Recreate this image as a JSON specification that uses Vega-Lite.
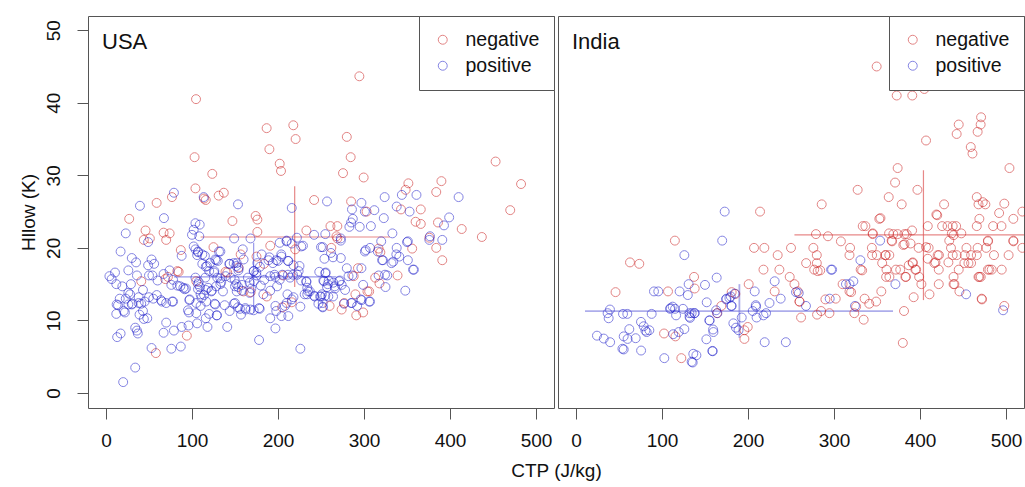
{
  "$schema": "https://vega.github.io/schema/vega-lite/v6.json",
  "background": "white",
  "padding": {"left": 18, "top": 15, "right": 0, "bottom": 0},
  "bounds": "flush",
  "spacing": 4,
  "config": {
    "font": "Liberation Sans",
    "view": {"stroke": "#555", "strokeWidth": 1},
    "axis": {"domain": false, "grid": false, "tickSize": 11, "tickColor": "#555", "labelFontSize": 19, "titleFontSize": 19, "labelColor": "#111", "titleColor": "#111", "titleFontWeight": "normal", "labelFlush": false, "labelOverlap": false},
    "legend": {"orient": "top-right", "offset": 0, "strokeColor": "#555", "fillColor": "white", "padding": 14, "labelFontSize": 19.5, "labelOffset": 13, "symbolSize": 80, "symbolStrokeWidth": 1, "rowPadding": 5, "labelColor": "#111", "cornerRadius": 0},
    "title": {"fontSize": 22, "fontWeight": "normal", "color": "#111", "anchor": "start", "frame": "group"}
  },
  "datasets": {
    "usa": [
      {"ctp":294.6,"hllow":43.65,"group":"negative"},{"ctp":104.7,"hllow":40.5,"group":"negative"},{"ctp":186.8,"hllow":36.5,"group":"negative"},{"ctp":217.8,"hllow":36.9,"group":"negative"},{"ctp":220.5,"hllow":35.0,"group":"negative"},{"ctp":190,"hllow":33.6,"group":"negative"},{"ctp":280,"hllow":35.3,"group":"negative"},{"ctp":284.5,"hllow":32.5,"group":"negative"},{"ctp":103,"hllow":32.5,"group":"negative"},{"ctp":202,"hllow":31.6,"group":"negative"},{"ctp":203.5,"hllow":30.6,"group":"negative"},{"ctp":123.6,"hllow":30.2,"group":"negative"},{"ctp":275.6,"hllow":30.3,"group":"negative"},{"ctp":299.6,"hllow":29.7,"group":"negative"},{"ctp":453,"hllow":31.9,"group":"negative"},{"ctp":482.6,"hllow":28.8,"group":"negative"},{"ctp":104,"hllow":28.2,"group":"negative"},{"ctp":351.6,"hllow":28.9,"group":"negative"},{"ctp":390,"hllow":29.2,"group":"negative"},{"ctp":384,"hllow":27.7,"group":"negative"},{"ctp":348.4,"hllow":28.0,"group":"negative"},{"ctp":470,"hllow":25.2,"group":"negative"},{"ctp":114,"hllow":26.8,"group":"negative"},{"ctp":116,"hllow":26.6,"group":"negative"},{"ctp":131,"hllow":27.2,"group":"negative"},{"ctp":137,"hllow":27.6,"group":"negative"},{"ctp":76.7,"hllow":27.0,"group":"negative"},{"ctp":58.9,"hllow":26.2,"group":"negative"},{"ctp":242,"hllow":26.6,"group":"negative"},{"ctp":285,"hllow":26.4,"group":"negative"},{"ctp":303,"hllow":25.0,"group":"negative"},{"ctp":343,"hllow":25.3,"group":"negative"},{"ctp":366,"hllow":25.3,"group":"negative"},{"ctp":27,"hllow":24.0,"group":"negative"},{"ctp":147,"hllow":23.7,"group":"negative"},{"ctp":174,"hllow":24.4,"group":"negative"},{"ctp":176,"hllow":23.9,"group":"negative"},{"ctp":360,"hllow":23.6,"group":"negative"},{"ctp":366,"hllow":23.3,"group":"negative"},{"ctp":386,"hllow":23.5,"group":"negative"},{"ctp":413.6,"hllow":22.6,"group":"negative"},{"ctp":261,"hllow":23.0,"group":"negative"},{"ctp":269,"hllow":23.0,"group":"negative"},{"ctp":46,"hllow":22.4,"group":"negative"},{"ctp":44,"hllow":21.1,"group":"negative"},{"ctp":51,"hllow":21.3,"group":"negative"},{"ctp":67,"hllow":22.1,"group":"negative"},{"ctp":74,"hllow":22.0,"group":"negative"},{"ctp":70,"hllow":21.1,"group":"negative"},{"ctp":176,"hllow":22.2,"group":"negative"},{"ctp":233,"hllow":22.4,"group":"negative"},{"ctp":268,"hllow":21.6,"group":"negative"},{"ctp":269,"hllow":21.3,"group":"negative"},{"ctp":376,"hllow":21.4,"group":"negative"},{"ctp":437,"hllow":21.5,"group":"negative"},{"ctp":125,"hllow":20.1,"group":"negative"},{"ctp":87,"hllow":19.7,"group":"negative"},{"ctp":191,"hllow":20.3,"group":"negative"},{"ctp":220,"hllow":19.8,"group":"negative"},{"ctp":262,"hllow":20.0,"group":"negative"},{"ctp":317,"hllow":19.9,"group":"negative"},{"ctp":319,"hllow":19.4,"group":"negative"},{"ctp":356,"hllow":19.9,"group":"negative"},{"ctp":384,"hllow":20.0,"group":"negative"},{"ctp":391,"hllow":18.3,"group":"negative"},{"ctp":175,"hllow":18.8,"group":"negative"},{"ctp":83,"hllow":16.8,"group":"negative"},{"ctp":84.5,"hllow":16.7,"group":"negative"},{"ctp":139,"hllow":16.7,"group":"negative"},{"ctp":141,"hllow":16.6,"group":"negative"},{"ctp":154,"hllow":17.3,"group":"negative"},{"ctp":293,"hllow":17.2,"group":"negative"},{"ctp":288,"hllow":16.1,"group":"negative"},{"ctp":69,"hllow":15.7,"group":"negative"},{"ctp":41,"hllow":15.4,"group":"negative"},{"ctp":105,"hllow":15.4,"group":"negative"},{"ctp":206,"hllow":16.2,"group":"negative"},{"ctp":313,"hllow":15.9,"group":"negative"},{"ctp":318,"hllow":15.1,"group":"negative"},{"ctp":339,"hllow":16.2,"group":"negative"},{"ctp":160,"hllow":14.0,"group":"negative"},{"ctp":187,"hllow":13.3,"group":"negative"},{"ctp":290,"hllow":13.6,"group":"negative"},{"ctp":304,"hllow":14.0,"group":"negative"},{"ctp":216,"hllow":12.5,"group":"negative"},{"ctp":205,"hllow":11.8,"group":"negative"},{"ctp":260,"hllow":12.0,"group":"negative"},{"ctp":274,"hllow":11.5,"group":"negative"},{"ctp":277,"hllow":12.4,"group":"negative"},{"ctp":291,"hllow":10.7,"group":"negative"},{"ctp":299,"hllow":11.1,"group":"negative"},{"ctp":94,"hllow":7.9,"group":"negative"},{"ctp":58,"hllow":5.5,"group":"negative"},{"ctp":183.7,"hllow":17.8,"group":"negative"},{"ctp":168.2,"hllow":13.9,"group":"negative"},{"ctp":156.6,"hllow":19.1,"group":"negative"},{"ctp":72,"hllow":16.0,"group":"negative"},{"ctp":306,"hllow":14.0,"group":"negative"},
      {"ctp":79,"hllow":27.6,"group":"positive"},{"ctp":39.5,"hllow":25.8,"group":"positive"},{"ctp":67.4,"hllow":24.1,"group":"positive"},{"ctp":23,"hllow":22.0,"group":"positive"},{"ctp":49,"hllow":20.8,"group":"positive"},{"ctp":17,"hllow":19.5,"group":"positive"},{"ctp":30,"hllow":18.6,"group":"positive"},{"ctp":53,"hllow":18.4,"group":"positive"},{"ctp":35,"hllow":18.0,"group":"positive"},{"ctp":49,"hllow":17.6,"group":"positive"},{"ctp":56,"hllow":17.8,"group":"positive"},{"ctp":4,"hllow":16.1,"group":"positive"},{"ctp":10.5,"hllow":16.6,"group":"positive"},{"ctp":6.6,"hllow":15.7,"group":"positive"},{"ctp":26,"hllow":16.9,"group":"positive"},{"ctp":36,"hllow":16.2,"group":"positive"},{"ctp":50,"hllow":16.2,"group":"positive"},{"ctp":54,"hllow":16.2,"group":"positive"},{"ctp":74,"hllow":16.9,"group":"positive"},{"ctp":12,"hllow":15.0,"group":"positive"},{"ctp":19,"hllow":14.7,"group":"positive"},{"ctp":29,"hllow":15.0,"group":"positive"},{"ctp":43,"hllow":14.2,"group":"positive"},{"ctp":60,"hllow":15.5,"group":"positive"},{"ctp":67,"hllow":16.4,"group":"positive"},{"ctp":88,"hllow":18.9,"group":"positive"},{"ctp":100,"hllow":21.8,"group":"positive"},{"ctp":104,"hllow":23.4,"group":"positive"},{"ctp":109,"hllow":23.2,"group":"positive"},{"ctp":102,"hllow":22.5,"group":"positive"},{"ctp":108.5,"hllow":21.6,"group":"positive"},{"ctp":113.6,"hllow":27.0,"group":"positive"},{"ctp":153.5,"hllow":26.0,"group":"positive"},{"ctp":149,"hllow":21.3,"group":"positive"},{"ctp":168,"hllow":21.3,"group":"positive"},{"ctp":216,"hllow":25.5,"group":"positive"},{"ctp":222,"hllow":21.4,"group":"positive"},{"ctp":257,"hllow":26.4,"group":"positive"},{"ctp":286,"hllow":25.3,"group":"positive"},{"ctp":297,"hllow":26.2,"group":"positive"},{"ctp":301,"hllow":25.0,"group":"positive"},{"ctp":312,"hllow":25.2,"group":"positive"},{"ctp":324,"hllow":27.0,"group":"positive"},{"ctp":344,"hllow":27.3,"group":"positive"},{"ctp":361,"hllow":27.3,"group":"positive"},{"ctp":410,"hllow":27.0,"group":"positive"},{"ctp":338,"hllow":25.7,"group":"positive"},{"ctp":353,"hllow":25.0,"group":"positive"},{"ctp":285,"hllow":23.5,"group":"positive"},{"ctp":287,"hllow":24.0,"group":"positive"},{"ctp":295,"hllow":22.9,"group":"positive"},{"ctp":308,"hllow":23.0,"group":"positive"},{"ctp":283,"hllow":22.9,"group":"positive"},{"ctp":323,"hllow":24.1,"group":"positive"},{"ctp":399,"hllow":24.2,"group":"positive"},{"ctp":393,"hllow":23.1,"group":"positive"},{"ctp":333,"hllow":22.0,"group":"positive"},{"ctp":376,"hllow":21.1,"group":"positive"},{"ctp":391,"hllow":21.1,"group":"positive"},{"ctp":351,"hllow":20.9,"group":"positive"},{"ctp":320,"hllow":20.9,"group":"positive"},{"ctp":255,"hllow":21.9,"group":"positive"},{"ctp":273,"hllow":21.3,"group":"positive"},{"ctp":242,"hllow":21.8,"group":"positive"},{"ctp":202,"hllow":20.7,"group":"positive"},{"ctp":210,"hllow":21.0,"group":"positive"},{"ctp":229,"hllow":20.3,"group":"positive"},{"ctp":250,"hllow":20.1,"group":"positive"},{"ctp":302,"hllow":19.7,"group":"positive"},{"ctp":307,"hllow":20.0,"group":"positive"},{"ctp":338,"hllow":20.0,"group":"positive"},{"ctp":341,"hllow":18.8,"group":"positive"},{"ctp":351,"hllow":18.3,"group":"positive"},{"ctp":322,"hllow":18.3,"group":"positive"},{"ctp":332,"hllow":17.9,"group":"positive"},{"ctp":334,"hllow":18.1,"group":"positive"},{"ctp":358,"hllow":17.0,"group":"positive"},{"ctp":348,"hllow":14.1,"group":"positive"},{"ctp":325,"hllow":14.6,"group":"positive"},{"ctp":307,"hllow":12.6,"group":"positive"},{"ctp":296,"hllow":12.9,"group":"positive"},{"ctp":286,"hllow":12.4,"group":"positive"},{"ctp":297,"hllow":17.2,"group":"positive"},{"ctp":280,"hllow":17.2,"group":"positive"},{"ctp":282,"hllow":16.1,"group":"positive"},{"ctp":264,"hllow":18.7,"group":"positive"},{"ctp":254,"hllow":18.5,"group":"positive"},{"ctp":273,"hllow":18.6,"group":"positive"},{"ctp":248,"hllow":16.7,"group":"positive"},{"ctp":255,"hllow":16.5,"group":"positive"},{"ctp":259,"hllow":15.5,"group":"positive"},{"ctp":266,"hllow":14.7,"group":"positive"},{"ctp":271,"hllow":15.4,"group":"positive"},{"ctp":278,"hllow":14.2,"group":"positive"},{"ctp":255,"hllow":13.4,"group":"positive"},{"ctp":251,"hllow":13.6,"group":"positive"},{"ctp":242,"hllow":13.4,"group":"positive"},{"ctp":234,"hllow":13.6,"group":"positive"},{"ctp":235,"hllow":14.0,"group":"positive"},{"ctp":233,"hllow":15.3,"group":"positive"},{"ctp":227,"hllow":15.5,"group":"positive"},{"ctp":224,"hllow":16.8,"group":"positive"},{"ctp":225,"hllow":17.5,"group":"positive"},{"ctp":214,"hllow":15.9,"group":"positive"},{"ctp":212,"hllow":18.2,"group":"positive"},{"ctp":204,"hllow":18.8,"group":"positive"},{"ctp":198,"hllow":18.3,"group":"positive"},{"ctp":189,"hllow":18.3,"group":"positive"},{"ctp":181,"hllow":19.1,"group":"positive"},{"ctp":176,"hllow":17.9,"group":"positive"},{"ctp":172,"hllow":16.8,"group":"positive"},{"ctp":175,"hllow":16.2,"group":"positive"},{"ctp":184,"hllow":15.6,"group":"positive"},{"ctp":191,"hllow":16.1,"group":"positive"},{"ctp":197,"hllow":16.0,"group":"positive"},{"ctp":202,"hllow":15.6,"group":"positive"},{"ctp":199,"hllow":14.7,"group":"positive"},{"ctp":191,"hllow":14.1,"group":"positive"},{"ctp":180,"hllow":14.8,"group":"positive"},{"ctp":169,"hllow":14.4,"group":"positive"},{"ctp":167,"hllow":13.8,"group":"positive"},{"ctp":158,"hllow":14.9,"group":"positive"},{"ctp":152,"hllow":14.0,"group":"positive"},{"ctp":150,"hllow":14.7,"group":"positive"},{"ctp":145,"hllow":15.9,"group":"positive"},{"ctp":139,"hllow":16.1,"group":"positive"},{"ctp":133,"hllow":15.8,"group":"positive"},{"ctp":126,"hllow":16.8,"group":"positive"},{"ctp":127,"hllow":18.4,"group":"positive"},{"ctp":130,"hllow":18.2,"group":"positive"},{"ctp":133,"hllow":19.5,"group":"positive"},{"ctp":144,"hllow":17.8,"group":"positive"},{"ctp":152,"hllow":17.9,"group":"positive"},{"ctp":159,"hllow":19.8,"group":"positive"},{"ctp":160,"hllow":18.4,"group":"positive"},{"ctp":154,"hllow":16.9,"group":"positive"},{"ctp":112,"hllow":19.1,"group":"positive"},{"ctp":107,"hllow":19.5,"group":"positive"},{"ctp":116,"hllow":17.4,"group":"positive"},{"ctp":121,"hllow":17.9,"group":"positive"},{"ctp":120,"hllow":16.8,"group":"positive"},{"ctp":104,"hllow":15.9,"group":"positive"},{"ctp":107,"hllow":15.0,"group":"positive"},{"ctp":107,"hllow":14.3,"group":"positive"},{"ctp":110,"hllow":13.6,"group":"positive"},{"ctp":116,"hllow":14.2,"group":"positive"},{"ctp":123,"hllow":14.1,"group":"positive"},{"ctp":128,"hllow":14.7,"group":"positive"},{"ctp":133,"hllow":15.0,"group":"positive"},{"ctp":136,"hllow":14.0,"group":"positive"},{"ctp":105,"hllow":12.4,"group":"positive"},{"ctp":111,"hllow":13.1,"group":"positive"},{"ctp":97,"hllow":12.8,"group":"positive"},{"ctp":90,"hllow":14.5,"group":"positive"},{"ctp":93,"hllow":14.4,"group":"positive"},{"ctp":83,"hllow":14.8,"group":"positive"},{"ctp":76,"hllow":14.9,"group":"positive"},{"ctp":78,"hllow":15.6,"group":"positive"},{"ctp":64,"hllow":12.8,"group":"positive"},{"ctp":70,"hllow":12.4,"group":"positive"},{"ctp":77,"hllow":12.6,"group":"positive"},{"ctp":59,"hllow":13.5,"group":"positive"},{"ctp":55,"hllow":13.0,"group":"positive"},{"ctp":50,"hllow":13.2,"group":"positive"},{"ctp":45,"hllow":12.6,"group":"positive"},{"ctp":38,"hllow":13.2,"group":"positive"},{"ctp":38,"hllow":12.4,"group":"positive"},{"ctp":30,"hllow":12.2,"group":"positive"},{"ctp":26,"hllow":12.2,"group":"positive"},{"ctp":28,"hllow":13.6,"group":"positive"},{"ctp":26,"hllow":13.8,"group":"positive"},{"ctp":23,"hllow":13.0,"group":"positive"},{"ctp":16,"hllow":13.0,"group":"positive"},{"ctp":14,"hllow":12.1,"group":"positive"},{"ctp":12,"hllow":10.9,"group":"positive"},{"ctp":22,"hllow":11.1,"group":"positive"},{"ctp":39,"hllow":10.8,"group":"positive"},{"ctp":43,"hllow":11.3,"group":"positive"},{"ctp":44,"hllow":10.2,"group":"positive"},{"ctp":48,"hllow":10.3,"group":"positive"},{"ctp":34,"hllow":9.0,"group":"positive"},{"ctp":36,"hllow":8.6,"group":"positive"},{"ctp":37,"hllow":8.2,"group":"positive"},{"ctp":17,"hllow":8.2,"group":"positive"},{"ctp":13,"hllow":7.7,"group":"positive"},{"ctp":70,"hllow":9.7,"group":"positive"},{"ctp":67,"hllow":8.3,"group":"positive"},{"ctp":79,"hllow":8.6,"group":"positive"},{"ctp":88,"hllow":9.1,"group":"positive"},{"ctp":96,"hllow":9.3,"group":"positive"},{"ctp":106,"hllow":9.6,"group":"positive"},{"ctp":118,"hllow":9.1,"group":"positive"},{"ctp":116,"hllow":10.3,"group":"positive"},{"ctp":120,"hllow":10.9,"group":"positive"},{"ctp":127,"hllow":12.2,"group":"positive"},{"ctp":129,"hllow":10.7,"group":"positive"},{"ctp":141,"hllow":9.1,"group":"positive"},{"ctp":150,"hllow":12.4,"group":"positive"},{"ctp":157,"hllow":10.8,"group":"positive"},{"ctp":162,"hllow":11.7,"group":"positive"},{"ctp":168,"hllow":11.5,"group":"positive"},{"ctp":178,"hllow":11.7,"group":"positive"},{"ctp":191,"hllow":10.3,"group":"positive"},{"ctp":197,"hllow":8.9,"group":"positive"},{"ctp":197,"hllow":12.0,"group":"positive"},{"ctp":204,"hllow":10.6,"group":"positive"},{"ctp":212,"hllow":10.6,"group":"positive"},{"ctp":210,"hllow":12.4,"group":"positive"},{"ctp":226,"hllow":11.9,"group":"positive"},{"ctp":178,"hllow":7.3,"group":"positive"},{"ctp":226,"hllow":6.1,"group":"positive"},{"ctp":53,"hllow":6.2,"group":"positive"},{"ctp":76,"hllow":6.1,"group":"positive"},{"ctp":87,"hllow":6.4,"group":"positive"},{"ctp":34,"hllow":3.5,"group":"positive"},{"ctp":20,"hllow":1.5,"group":"positive"},{"ctp":183,"hllow":13.6,"group":"positive"},{"ctp":211,"hllow":13.6,"group":"positive"},{"ctp":218,"hllow":13.2,"group":"positive"},{"ctp":167,"hllow":15.2,"group":"positive"},{"ctp":179,"hllow":17.4,"group":"positive"},{"ctp":234,"hllow":14.5,"group":"positive"},{"ctp":247,"hllow":12.3,"group":"positive"},{"ctp":252,"hllow":11.9,"group":"positive"},{"ctp":264,"hllow":13.3,"group":"positive"},{"ctp":299,"hllow":14.9,"group":"positive"},{"ctp":317,"hllow":16.2,"group":"positive"},{"ctp":327,"hllow":16.2,"group":"positive"},
      {"ctp":12.4,"hllow":12.2,"group":"positive"},{"ctp":20.6,"hllow":11.3,"group":"positive"},{"ctp":30.6,"hllow":12.3,"group":"positive"},{"ctp":41,"hllow":12.3,"group":"positive"},{"ctp":65,"hllow":12.6,"group":"positive"},{"ctp":78,"hllow":12.6,"group":"positive"},{"ctp":96.5,"hllow":11.1,"group":"positive"},{"ctp":95.3,"hllow":11.4,"group":"positive"},{"ctp":105,"hllow":11.0,"group":"positive"},{"ctp":86.4,"hllow":14.7,"group":"positive"},{"ctp":91.5,"hllow":14.3,"group":"positive"},{"ctp":97.3,"hllow":12.9,"group":"positive"},{"ctp":102,"hllow":20.2,"group":"positive"},{"ctp":104,"hllow":19.8,"group":"positive"},{"ctp":107,"hllow":19.4,"group":"positive"},{"ctp":106,"hllow":19.0,"group":"positive"},{"ctp":115,"hllow":18.9,"group":"positive"},{"ctp":112,"hllow":17.8,"group":"positive"},{"ctp":117.4,"hllow":17.5,"group":"positive"},{"ctp":131.4,"hllow":19.5,"group":"positive"},{"ctp":128.3,"hllow":18.3,"group":"positive"},{"ctp":125.6,"hllow":16.6,"group":"positive"},{"ctp":129.4,"hllow":15.9,"group":"positive"},{"ctp":134,"hllow":15.3,"group":"positive"},{"ctp":115.5,"hllow":15.9,"group":"positive"},{"ctp":107.8,"hllow":15.3,"group":"positive"},{"ctp":109.3,"hllow":14.6,"group":"positive"},{"ctp":118.6,"hllow":14.5,"group":"positive"},{"ctp":122.5,"hllow":14.0,"group":"positive"},{"ctp":114,"hllow":13.5,"group":"positive"},{"ctp":116.6,"hllow":12.6,"group":"positive"},{"ctp":110,"hllow":12.0,"group":"positive"},{"ctp":126.4,"hllow":12.3,"group":"positive"},{"ctp":138,"hllow":12.1,"group":"positive"},{"ctp":143.8,"hllow":11.3,"group":"positive"},{"ctp":148.8,"hllow":12.3,"group":"positive"},{"ctp":153.5,"hllow":11.8,"group":"positive"},{"ctp":128.7,"hllow":10.7,"group":"positive"},{"ctp":149.6,"hllow":15.6,"group":"positive"},{"ctp":151.6,"hllow":15.0,"group":"positive"},{"ctp":153.8,"hllow":14.6,"group":"positive"},{"ctp":158,"hllow":14.1,"group":"positive"},{"ctp":151.5,"hllow":17.5,"group":"positive"},{"ctp":154.3,"hllow":17.2,"group":"positive"},{"ctp":143.4,"hllow":17.8,"group":"positive"},{"ctp":148.5,"hllow":17.9,"group":"positive"},{"ctp":165,"hllow":15.9,"group":"positive"},{"ctp":172,"hllow":15.4,"group":"positive"},{"ctp":171.7,"hllow":16.8,"group":"positive"},{"ctp":174.8,"hllow":16.6,"group":"positive"},{"ctp":227,"hllow":20.2,"group":"positive"},{"ctp":210,"hllow":20.9,"group":"positive"},{"ctp":216,"hllow":20.6,"group":"positive"},{"ctp":203.8,"hllow":19.1,"group":"positive"},{"ctp":200,"hllow":18.2,"group":"positive"},{"ctp":211.6,"hllow":18.2,"group":"positive"},{"ctp":218,"hllow":17.6,"group":"positive"},{"ctp":190,"hllow":18.7,"group":"positive"},{"ctp":194,"hllow":17.9,"group":"positive"},{"ctp":196,"hllow":16.3,"group":"positive"},{"ctp":205,"hllow":16.3,"group":"positive"},{"ctp":211.6,"hllow":16.3,"group":"positive"},{"ctp":217.4,"hllow":16.3,"group":"positive"},{"ctp":222.4,"hllow":16.3,"group":"positive"},{"ctp":233,"hllow":15.4,"group":"positive"},{"ctp":237,"hllow":14.0,"group":"positive"},{"ctp":231,"hllow":13.6,"group":"positive"},{"ctp":242.6,"hllow":13.3,"group":"positive"},{"ctp":250,"hllow":13.3,"group":"positive"},{"ctp":257,"hllow":14.6,"group":"positive"},{"ctp":253.5,"hllow":15.4,"group":"positive"},{"ctp":198,"hllow":11.3,"group":"positive"},{"ctp":208,"hllow":12.0,"group":"positive"},{"ctp":216,"hllow":12.9,"group":"positive"},{"ctp":178.7,"hllow":11.6,"group":"positive"},{"ctp":171.7,"hllow":11.4,"group":"positive"},{"ctp":162.4,"hllow":11.5,"group":"positive"},{"ctp":155.8,"hllow":11.6,"group":"positive"},{"ctp":273,"hllow":21.0,"group":"positive"},{"ctp":376.7,"hllow":21.6,"group":"positive"},{"ctp":261.6,"hllow":19.3,"group":"positive"},{"ctp":301,"hllow":19.5,"group":"positive"},{"ctp":316,"hllow":19.5,"group":"positive"},{"ctp":252,"hllow":20.1,"group":"positive"},{"ctp":255.5,"hllow":16.6,"group":"positive"},{"ctp":252.7,"hllow":15.5,"group":"positive"},{"ctp":257.8,"hllow":15.0,"group":"positive"},{"ctp":264.3,"hllow":15.2,"group":"positive"},{"ctp":272,"hllow":15.5,"group":"positive"},{"ctp":266.3,"hllow":14.4,"group":"positive"},{"ctp":274,"hllow":14.9,"group":"positive"},{"ctp":249,"hllow":13.3,"group":"positive"},{"ctp":258.5,"hllow":13.3,"group":"positive"},{"ctp":252,"hllow":12.4,"group":"positive"},{"ctp":252,"hllow":11.8,"group":"positive"},{"ctp":276.7,"hllow":12.3,"group":"positive"},{"ctp":285,"hllow":12.4,"group":"positive"},{"ctp":292,"hllow":12.0,"group":"positive"},{"ctp":297.3,"hllow":12.8,"group":"positive"},{"ctp":306,"hllow":12.6,"group":"positive"},{"ctp":321,"hllow":18.3,"group":"positive"},{"ctp":324.4,"hllow":16.3,"group":"positive"},{"ctp":337.6,"hllow":19.1,"group":"positive"},{"ctp":350,"hllow":20.8,"group":"positive"},{"ctp":357,"hllow":17.0,"group":"positive"},{"ctp":286.4,"hllow":16.2,"group":"positive"}
    ],
    "usa_bars": [
      {"group":"negative","xm":219.4,"xlo":110,"xhi":330,"ym":21.5,"ylo":14.6,"yhi":28.5},
      {"group":"positive","xm":171.7,"xlo":79,"xhi":268,"ym":16.0,"ylo":11.0,"yhi":20.7}
    ],
    "india": [
      {"ctp":349.6,"hllow":45.0,"group":"negative"},{"ctp":372.9,"hllow":41.0,"group":"negative"},{"ctp":391,"hllow":41.0,"group":"negative"},{"ctp":405,"hllow":41.9,"group":"negative"},{"ctp":471,"hllow":38.0,"group":"negative"},{"ctp":470.5,"hllow":37.0,"group":"negative"},{"ctp":445,"hllow":37.0,"group":"negative"},{"ctp":442.6,"hllow":35.7,"group":"negative"},{"ctp":467,"hllow":36.0,"group":"negative"},{"ctp":407,"hllow":34.8,"group":"negative"},{"ctp":459,"hllow":33.9,"group":"negative"},{"ctp":461,"hllow":33.0,"group":"negative"},{"ctp":504,"hllow":31.0,"group":"negative"},{"ctp":374,"hllow":31.0,"group":"negative"},{"ctp":371,"hllow":29.0,"group":"negative"},{"ctp":327.5,"hllow":28.0,"group":"negative"},{"ctp":397,"hllow":28.0,"group":"negative"},{"ctp":363.6,"hllow":27.0,"group":"negative"},{"ctp":378.7,"hllow":26.0,"group":"negative"},{"ctp":285.7,"hllow":26.0,"group":"negative"},{"ctp":428,"hllow":26.0,"group":"negative"},{"ctp":466,"hllow":27.0,"group":"negative"},{"ctp":468,"hllow":26.0,"group":"negative"},{"ctp":473,"hllow":26.3,"group":"negative"},{"ctp":476,"hllow":26.0,"group":"negative"},{"ctp":498,"hllow":26.1,"group":"negative"},{"ctp":419,"hllow":24.6,"group":"negative"},{"ctp":469,"hllow":24.0,"group":"negative"},{"ctp":492,"hllow":24.8,"group":"negative"},{"ctp":508.5,"hllow":24.0,"group":"negative"},{"ctp":519,"hllow":25.0,"group":"negative"},{"ctp":352.7,"hllow":24.0,"group":"negative"},{"ctp":354,"hllow":24.1,"group":"negative"},{"ctp":214,"hllow":25.0,"group":"negative"},{"ctp":420,"hllow":24.5,"group":"negative"},{"ctp":333.4,"hllow":23.0,"group":"negative"},{"ctp":336.5,"hllow":23.0,"group":"negative"},{"ctp":345,"hllow":22.0,"group":"negative"},{"ctp":364,"hllow":22.0,"group":"negative"},{"ctp":369,"hllow":21.9,"group":"negative"},{"ctp":374,"hllow":21.9,"group":"negative"},{"ctp":381.9,"hllow":21.9,"group":"negative"},{"ctp":384.5,"hllow":21.9,"group":"negative"},{"ctp":390.8,"hllow":22.4,"group":"negative"},{"ctp":367,"hllow":21.0,"group":"negative"},{"ctp":380.6,"hllow":20.4,"group":"negative"},{"ctp":409,"hllow":23.0,"group":"negative"},{"ctp":425.7,"hllow":23.0,"group":"negative"},{"ctp":432,"hllow":23.0,"group":"negative"},{"ctp":438,"hllow":23.0,"group":"negative"},{"ctp":442,"hllow":23.0,"group":"negative"},{"ctp":466,"hllow":23.0,"group":"negative"},{"ctp":485,"hllow":23.0,"group":"negative"},{"ctp":494.7,"hllow":23.0,"group":"negative"},{"ctp":437,"hllow":22.0,"group":"negative"},{"ctp":448,"hllow":22.0,"group":"negative"},{"ctp":439,"hllow":21.75,"group":"negative"},{"ctp":434,"hllow":21.0,"group":"negative"},{"ctp":479,"hllow":21.0,"group":"negative"},{"ctp":508.5,"hllow":21.0,"group":"negative"},{"ctp":519,"hllow":20.0,"group":"negative"},{"ctp":398.4,"hllow":20.0,"group":"negative"},{"ctp":407,"hllow":20.1,"group":"negative"},{"ctp":410,"hllow":20.0,"group":"negative"},{"ctp":436,"hllow":20.0,"group":"negative"},{"ctp":454,"hllow":20.0,"group":"negative"},{"ctp":467,"hllow":20.0,"group":"negative"},{"ctp":477,"hllow":20.0,"group":"negative"},{"ctp":479,"hllow":20.9,"group":"negative"},{"ctp":508.6,"hllow":20.9,"group":"negative"},{"ctp":279,"hllow":21.9,"group":"negative"},{"ctp":293,"hllow":21.6,"group":"negative"},{"ctp":308,"hllow":20.9,"group":"negative"},{"ctp":318.7,"hllow":20.0,"group":"negative"},{"ctp":318,"hllow":19.0,"group":"negative"},{"ctp":344,"hllow":20.0,"group":"negative"},{"ctp":345,"hllow":21.9,"group":"negative"},{"ctp":360,"hllow":19.0,"group":"negative"},{"ctp":364.3,"hllow":19.0,"group":"negative"},{"ctp":367.5,"hllow":20.9,"group":"negative"},{"ctp":382,"hllow":20.5,"group":"negative"},{"ctp":389,"hllow":20.6,"group":"negative"},{"ctp":391.5,"hllow":18.0,"group":"negative"},{"ctp":409,"hllow":18.5,"group":"negative"},{"ctp":420.5,"hllow":19.0,"group":"negative"},{"ctp":422,"hllow":19.0,"group":"negative"},{"ctp":438,"hllow":19.0,"group":"negative"},{"ctp":442.7,"hllow":19.0,"group":"negative"},{"ctp":452,"hllow":19.0,"group":"negative"},{"ctp":459.4,"hllow":19.0,"group":"negative"},{"ctp":466,"hllow":19.0,"group":"negative"},{"ctp":486,"hllow":19.0,"group":"negative"},{"ctp":503,"hllow":19.0,"group":"negative"},{"ctp":418,"hllow":18.0,"group":"negative"},{"ctp":433,"hllow":18.0,"group":"negative"},{"ctp":451.6,"hllow":17.9,"group":"negative"},{"ctp":456.3,"hllow":17.9,"group":"negative"},{"ctp":459.4,"hllow":17.9,"group":"negative"},{"ctp":445,"hllow":17.0,"group":"negative"},{"ctp":479,"hllow":17.0,"group":"negative"},{"ctp":480.7,"hllow":17.0,"group":"negative"},{"ctp":483.4,"hllow":17.0,"group":"negative"},{"ctp":495,"hllow":17.0,"group":"negative"},{"ctp":469,"hllow":16.0,"group":"negative"},{"ctp":468,"hllow":16.0,"group":"negative"},{"ctp":470.6,"hllow":16.0,"group":"negative"},{"ctp":439,"hllow":16.0,"group":"negative"},{"ctp":421.8,"hllow":17.0,"group":"negative"},{"ctp":416.7,"hllow":17.9,"group":"negative"},{"ctp":394.6,"hllow":17.0,"group":"negative"},{"ctp":383.7,"hllow":16.0,"group":"negative"},{"ctp":372,"hllow":17.0,"group":"negative"},{"ctp":377,"hllow":17.0,"group":"negative"},{"ctp":386.9,"hllow":17.6,"group":"negative"},{"ctp":391.5,"hllow":17.9,"group":"negative"},{"ctp":395.5,"hllow":17.0,"group":"negative"},{"ctp":399,"hllow":16.0,"group":"negative"},{"ctp":401.6,"hllow":15.0,"group":"negative"},{"ctp":361,"hllow":17.0,"group":"negative"},{"ctp":360.6,"hllow":16.0,"group":"negative"},{"ctp":364.4,"hllow":16.0,"group":"negative"},{"ctp":383,"hllow":16.0,"group":"negative"},{"ctp":344.3,"hllow":19.0,"group":"negative"},{"ctp":349.7,"hllow":19.0,"group":"negative"},{"ctp":356,"hllow":17.9,"group":"negative"},{"ctp":359.8,"hllow":19.0,"group":"negative"},{"ctp":421.8,"hllow":15.0,"group":"negative"},{"ctp":439,"hllow":15.0,"group":"negative"},{"ctp":440,"hllow":15.0,"group":"negative"},{"ctp":445.8,"hllow":14.0,"group":"negative"},{"ctp":471.7,"hllow":13.0,"group":"negative"},{"ctp":411,"hllow":13.6,"group":"negative"},{"ctp":392.6,"hllow":13.2,"group":"negative"},{"ctp":498,"hllow":12.0,"group":"negative"},{"ctp":472,"hllow":12.9,"group":"negative"},{"ctp":381.4,"hllow":11.3,"group":"negative"},{"ctp":380,"hllow":6.9,"group":"negative"},{"ctp":331,"hllow":17.0,"group":"negative"},{"ctp":332.7,"hllow":16.9,"group":"negative"},{"ctp":318,"hllow":14.0,"group":"negative"},{"ctp":310,"hllow":15.0,"group":"negative"},{"ctp":319.9,"hllow":13.9,"group":"negative"},{"ctp":355,"hllow":14.0,"group":"negative"},{"ctp":335.6,"hllow":13.0,"group":"negative"},{"ctp":341,"hllow":12.3,"group":"negative"},{"ctp":349,"hllow":12.6,"group":"negative"},{"ctp":334.5,"hllow":10.1,"group":"negative"},{"ctp":323.6,"hllow":11.0,"group":"negative"},{"ctp":325.7,"hllow":11.9,"group":"negative"},{"ctp":302,"hllow":13.0,"group":"negative"},{"ctp":290,"hllow":12.9,"group":"negative"},{"ctp":285,"hllow":11.3,"group":"negative"},{"ctp":280.3,"hllow":10.8,"group":"negative"},{"ctp":294.7,"hllow":11.0,"group":"negative"},{"ctp":261.7,"hllow":10.4,"group":"negative"},{"ctp":259.8,"hllow":12.6,"group":"negative"},{"ctp":276,"hllow":20.0,"group":"negative"},{"ctp":280,"hllow":19.0,"group":"negative"},{"ctp":280,"hllow":17.9,"group":"negative"},{"ctp":277,"hllow":17.0,"group":"negative"},{"ctp":281,"hllow":16.8,"group":"negative"},{"ctp":284,"hllow":16.9,"group":"negative"},{"ctp":267.6,"hllow":17.9,"group":"negative"},{"ctp":250,"hllow":20.0,"group":"negative"},{"ctp":234.5,"hllow":19.0,"group":"negative"},{"ctp":219,"hllow":20.0,"group":"negative"},{"ctp":207,"hllow":20.0,"group":"negative"},{"ctp":218,"hllow":17.0,"group":"negative"},{"ctp":236.5,"hllow":17.0,"group":"negative"},{"ctp":248.5,"hllow":16.0,"group":"negative"},{"ctp":254,"hllow":15.0,"group":"negative"},{"ctp":257.8,"hllow":14.0,"group":"negative"},{"ctp":260,"hllow":12.6,"group":"negative"},{"ctp":231,"hllow":14.0,"group":"negative"},{"ctp":200.8,"hllow":15.0,"group":"negative"},{"ctp":181,"hllow":13.9,"group":"negative"},{"ctp":185.3,"hllow":13.65,"group":"negative"},{"ctp":169,"hllow":12.0,"group":"negative"},{"ctp":164,"hllow":11.0,"group":"negative"},{"ctp":195.8,"hllow":8.65,"group":"negative"},{"ctp":199.7,"hllow":9.1,"group":"negative"},{"ctp":195.8,"hllow":7.45,"group":"negative"},{"ctp":138,"hllow":14.4,"group":"negative"},{"ctp":137.3,"hllow":16.0,"group":"negative"},{"ctp":107,"hllow":14.0,"group":"negative"},{"ctp":115,"hllow":21.0,"group":"negative"},{"ctp":62.8,"hllow":18.0,"group":"negative"},{"ctp":73.6,"hllow":17.8,"group":"negative"},{"ctp":46,"hllow":13.9,"group":"negative"},{"ctp":102.4,"hllow":8.2,"group":"negative"},{"ctp":115.6,"hllow":7.8,"group":"negative"},{"ctp":122.5,"hllow":4.8,"group":"negative"},
      {"ctp":172.9,"hllow":25.0,"group":"positive"},{"ctp":170,"hllow":21.0,"group":"positive"},{"ctp":126,"hllow":19.0,"group":"positive"},{"ctp":163.6,"hllow":15.9,"group":"positive"},{"ctp":150,"hllow":14.9,"group":"positive"},{"ctp":131,"hllow":15.0,"group":"positive"},{"ctp":130,"hllow":13.5,"group":"positive"},{"ctp":120.5,"hllow":14.0,"group":"positive"},{"ctp":90.7,"hllow":14.0,"group":"positive"},{"ctp":95.7,"hllow":14.0,"group":"positive"},{"ctp":152,"hllow":12.5,"group":"positive"},{"ctp":175,"hllow":13.0,"group":"positive"},{"ctp":180,"hllow":13.3,"group":"positive"},{"ctp":184.5,"hllow":13.7,"group":"positive"},{"ctp":180.6,"hllow":12.0,"group":"positive"},{"ctp":110,"hllow":11.7,"group":"positive"},{"ctp":112.4,"hllow":11.9,"group":"positive"},{"ctp":115.2,"hllow":11.6,"group":"positive"},{"ctp":124.4,"hllow":11.6,"group":"positive"},{"ctp":134.5,"hllow":11.0,"group":"positive"},{"ctp":138,"hllow":11.0,"group":"positive"},{"ctp":132,"hllow":10.5,"group":"positive"},{"ctp":116.4,"hllow":10.7,"group":"positive"},{"ctp":88,"hllow":10.9,"group":"positive"},{"ctp":39.5,"hllow":11.5,"group":"positive"},{"ctp":36.8,"hllow":11.0,"group":"positive"},{"ctp":38,"hllow":10.3,"group":"positive"},{"ctp":54.7,"hllow":10.9,"group":"positive"},{"ctp":59.7,"hllow":10.9,"group":"positive"},{"ctp":163,"hllow":11.4,"group":"positive"},{"ctp":155,"hllow":10.0,"group":"positive"},{"ctp":159.4,"hllow":8.75,"group":"positive"},{"ctp":159.8,"hllow":8.4,"group":"positive"},{"ctp":151.6,"hllow":7.4,"group":"positive"},{"ctp":158.5,"hllow":5.8,"group":"positive"},{"ctp":126,"hllow":8.8,"group":"positive"},{"ctp":119.4,"hllow":8.4,"group":"positive"},{"ctp":113,"hllow":8.1,"group":"positive"},{"ctp":136.4,"hllow":5.4,"group":"positive"},{"ctp":134.5,"hllow":4.3,"group":"positive"},{"ctp":140,"hllow":5.2,"group":"positive"},{"ctp":102.7,"hllow":4.8,"group":"positive"},{"ctp":75.6,"hllow":9.8,"group":"positive"},{"ctp":78.7,"hllow":9.2,"group":"positive"},{"ctp":80.7,"hllow":8.6,"group":"positive"},{"ctp":82.2,"hllow":8.4,"group":"positive"},{"ctp":85.3,"hllow":8.65,"group":"positive"},{"ctp":62,"hllow":8.8,"group":"positive"},{"ctp":55.5,"hllow":7.8,"group":"positive"},{"ctp":60,"hllow":7.45,"group":"positive"},{"ctp":69.4,"hllow":7.55,"group":"positive"},{"ctp":54,"hllow":6.1,"group":"positive"},{"ctp":55.5,"hllow":6.0,"group":"positive"},{"ctp":75.7,"hllow":5.85,"group":"positive"},{"ctp":24.4,"hllow":7.9,"group":"positive"},{"ctp":32.3,"hllow":7.5,"group":"positive"},{"ctp":39.7,"hllow":7.0,"group":"positive"},{"ctp":183,"hllow":9.6,"group":"positive"},{"ctp":186,"hllow":9.0,"group":"positive"},{"ctp":189,"hllow":8.65,"group":"positive"},{"ctp":192.7,"hllow":10.4,"group":"positive"},{"ctp":207.8,"hllow":14.0,"group":"positive"},{"ctp":209,"hllow":12.1,"group":"positive"},{"ctp":209.4,"hllow":11.9,"group":"positive"},{"ctp":205.5,"hllow":11.3,"group":"positive"},{"ctp":210,"hllow":10.4,"group":"positive"},{"ctp":218,"hllow":10.7,"group":"positive"},{"ctp":221,"hllow":11.0,"group":"positive"},{"ctp":225,"hllow":12.4,"group":"positive"},{"ctp":231,"hllow":15.4,"group":"positive"},{"ctp":238,"hllow":13.0,"group":"positive"},{"ctp":255.8,"hllow":13.9,"group":"positive"},{"ctp":259,"hllow":13.75,"group":"positive"},{"ctp":267.4,"hllow":12.0,"group":"positive"},{"ctp":296.6,"hllow":17.0,"group":"positive"},{"ctp":297.8,"hllow":17.0,"group":"positive"},{"ctp":295,"hllow":13.0,"group":"positive"},{"ctp":313.9,"hllow":15.0,"group":"positive"},{"ctp":318,"hllow":15.0,"group":"positive"},{"ctp":322.5,"hllow":15.4,"group":"positive"},{"ctp":324.4,"hllow":12.0,"group":"positive"},{"ctp":330.7,"hllow":18.3,"group":"positive"},{"ctp":353.6,"hllow":21.0,"group":"positive"},{"ctp":371.4,"hllow":15.0,"group":"positive"},{"ctp":453.6,"hllow":13.6,"group":"positive"},{"ctp":496.6,"hllow":11.4,"group":"positive"},{"ctp":219.4,"hllow":7.0,"group":"positive"},{"ctp":244,"hllow":7.0,"group":"positive"},{"ctp":174.5,"hllow":12.9,"group":"positive"},{"ctp":178.4,"hllow":13.1,"group":"positive"},{"ctp":181,"hllow":12.0,"group":"positive"},{"ctp":164.4,"hllow":11.0,"group":"positive"},{"ctp":131.9,"hllow":11.0,"group":"positive"},{"ctp":132.7,"hllow":10.35,"group":"positive"},{"ctp":137.7,"hllow":11.0,"group":"positive"},{"ctp":109.4,"hllow":11.6,"group":"positive"},{"ctp":135.7,"hllow":4.2,"group":"positive"},{"ctp":159,"hllow":5.75,"group":"positive"},{"ctp":155.5,"hllow":10.0,"group":"positive"}
    ],
    "india_bars": [
      {"group":"negative","xm":404,"xlo":254,"xhi":554,"ym":21.8,"ylo":12.8,"yhi":30.7},
      {"group":"positive","xm":190,"xlo":10.5,"xhi":368.6,"ym":11.27,"ylo":7.6,"yhi":15.0}
    ]
  },
  "resolve": {"scale": {"color": "independent"}, "legend": {"color": "independent"}},
  "hconcat": [
    {
      "width": 466, "height": 392,
      "title": {"text": "USA", "offset": -38, "dx": 14},
      "layer": [
        {
          "data": {"name": "usa_bars"},
          "transform": [{"filter": "datum.group === 'negative'"}],
          "mark": {"type": "rule", "clip": true, "strokeWidth": 1.2, "color": "#dd5555", "opacity": 0.7},
          "encoding": {
            "x": {"field": "xlo", "type": "quantitative", "title": "CTP (J/kg)", "scale": {"domain": [-20.9, 520.9], "nice": false, "zero": false}, "axis": {"values": [0,100,200,300,400,500], "labelPadding": 12, "titlePadding": 11, "titleX": 468}}, "x2": {"field": "xhi"},
            "y": {"field": "ym", "type": "quantitative", "title": "Hllow (K)", "scale": {"domain": [-2.07, 51.96], "nice": false, "zero": false}, "axis": {"values": [0,10,20,30,40,50], "labelAngle": -90, "labelAlign": "center", "labelBaseline": "bottom", "labelPadding": 14, "titlePadding": 6}}
          }
        },
        {
          "data": {"name": "usa_bars"},
          "transform": [{"filter": "datum.group === 'negative'"}],
          "mark": {"type": "rule", "clip": true, "strokeWidth": 1.2, "color": "#dd5555", "opacity": 0.7},
          "encoding": {
            "x": {"field": "xm", "type": "quantitative", "title": "CTP (J/kg)"},
            "y": {"field": "ylo", "type": "quantitative", "title": "Hllow (K)"}, "y2": {"field": "yhi"}
          }
        },
        {
          "data": {"name": "usa_bars"},
          "transform": [{"filter": "datum.group === 'positive'"}],
          "mark": {"type": "rule", "clip": true, "strokeWidth": 1.2, "color": "#5555dd", "opacity": 0.6},
          "encoding": {
            "x": {"field": "xlo", "type": "quantitative", "title": "CTP (J/kg)"}, "x2": {"field": "xhi"},
            "y": {"field": "ym", "type": "quantitative", "title": "Hllow (K)"}
          }
        },
        {
          "data": {"name": "usa_bars"},
          "transform": [{"filter": "datum.group === 'positive'"}],
          "mark": {"type": "rule", "clip": true, "strokeWidth": 1.2, "color": "#5555dd", "opacity": 0.6},
          "encoding": {
            "x": {"field": "xm", "type": "quantitative", "title": "CTP (J/kg)"},
            "y": {"field": "ylo", "type": "quantitative", "title": "Hllow (K)"}, "y2": {"field": "yhi"}
          }
        },
        {
          "data": {"name": "usa"},
          "mark": {"type": "point", "shape": "circle", "filled": false, "size": 80, "strokeWidth": 1, "opacity": 0.55},
          "encoding": {
            "x": {"field": "ctp", "type": "quantitative", "title": "CTP (J/kg)"},
            "y": {"field": "hllow", "type": "quantitative", "title": "Hllow (K)"},
            "color": {"field": "group", "type": "nominal", "title": null, "scale": {"domain": ["negative","positive"], "range": ["#cc2020","#2020cc"]}}
          }
        }
      ]
    },
    {
      "width": 466, "height": 392,
      "title": {"text": "India", "offset": -38, "dx": 14},
      "layer": [
        {
          "data": {"name": "india_bars"},
          "transform": [{"filter": "datum.group === 'negative'"}],
          "mark": {"type": "rule", "clip": true, "strokeWidth": 1.2, "color": "#dd5555", "opacity": 0.7},
          "encoding": {
            "x": {"field": "xlo", "type": "quantitative", "title": null, "scale": {"domain": [-20.9, 520.9], "nice": false, "zero": false}, "axis": {"values": [0,100,200,300,400,500], "labelPadding": 12}}, "x2": {"field": "xhi"},
            "y": {"field": "ym", "type": "quantitative", "scale": {"domain": [-2.07, 51.96], "nice": false, "zero": false}, "axis": null}
          }
        },
        {
          "data": {"name": "india_bars"},
          "transform": [{"filter": "datum.group === 'negative'"}],
          "mark": {"type": "rule", "clip": true, "strokeWidth": 1.2, "color": "#dd5555", "opacity": 0.7},
          "encoding": {
            "x": {"field": "xm", "type": "quantitative", "title": null},
            "y": {"field": "ylo", "type": "quantitative", "axis": null}, "y2": {"field": "yhi"}
          }
        },
        {
          "data": {"name": "india_bars"},
          "transform": [{"filter": "datum.group === 'positive'"}],
          "mark": {"type": "rule", "clip": true, "strokeWidth": 1.8, "color": "#7777dd", "opacity": 0.6},
          "encoding": {
            "x": {"field": "xlo", "type": "quantitative", "title": null}, "x2": {"field": "xhi"},
            "y": {"field": "ym", "type": "quantitative", "axis": null}
          }
        },
        {
          "data": {"name": "india_bars"},
          "transform": [{"filter": "datum.group === 'positive'"}],
          "mark": {"type": "rule", "clip": true, "strokeWidth": 1.8, "color": "#7777dd", "opacity": 0.6},
          "encoding": {
            "x": {"field": "xm", "type": "quantitative", "title": null},
            "y": {"field": "ylo", "type": "quantitative", "axis": null}, "y2": {"field": "yhi"}
          }
        },
        {
          "data": {"name": "india"},
          "mark": {"type": "point", "shape": "circle", "filled": false, "size": 80, "strokeWidth": 1, "opacity": 0.55},
          "encoding": {
            "x": {"field": "ctp", "type": "quantitative", "title": null},
            "y": {"field": "hllow", "type": "quantitative", "axis": null},
            "color": {"field": "group", "type": "nominal", "title": null, "scale": {"domain": ["negative","positive"], "range": ["#cc2020","#2020cc"]}}
          }
        }
      ]
    }
  ]
}
